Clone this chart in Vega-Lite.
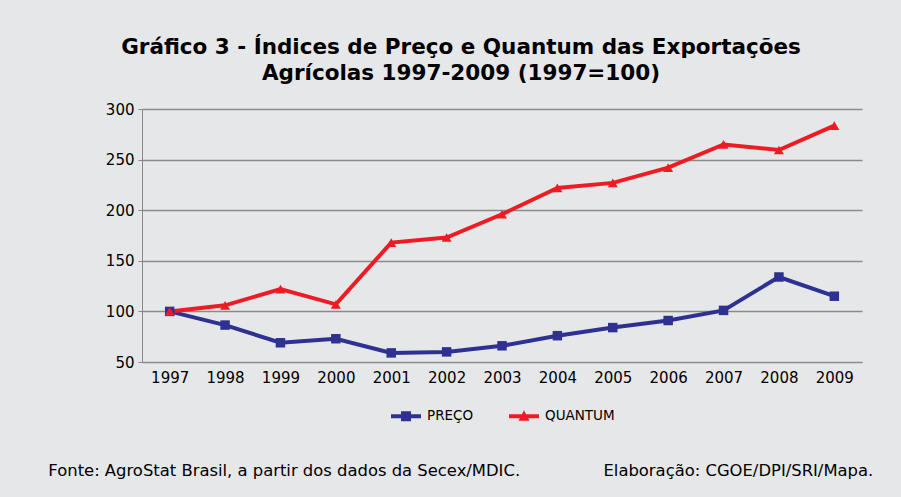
{
  "$schema": "https://vega.github.io/schema/vega-lite/v6.json",
  "background": "#e6e7e8",
  "padding": {"left": 48, "top": 36, "right": 30, "bottom": 20},
  "title": {
    "text": "Fonte: AgroStat Brasil, a partir dos dados da Secex/MDIC.\u00a0\u00a0\u00a0\u00a0\u00a0\u00a0\u00a0\u00a0\u00a0\u00a0\u00a0\u00a0\u00a0\u00a0\u00a0\u00a0Elaboração: CGOE/DPI/SRI/Mapa.",
    "orient": "bottom",
    "anchor": "start",
    "font": "DejaVu Sans",
    "fontSize": 16.4,
    "fontWeight": "normal",
    "color": "#000000",
    "offset": 40,
    "dx": -57
  },
  "vconcat": [
    {
      "width": 720,
      "height": 253,
      "title": {
        "text": ["Gráfico 3 - Índices de Preço e Quantum das Exportações", "Agrícolas 1997-2009 (1997=100)"],
        "anchor": "middle",
        "font": "DejaVu Sans",
        "fontSize": 21.5,
        "fontWeight": "bold",
        "lineHeight": 26,
        "color": "#000000",
        "dx": -41,
        "offset": 18
      },
      "data": {
        "values": [
          {"year": "1997", "serie": "PREÇO", "v": 100},
          {"year": "1998", "serie": "PREÇO", "v": 86.5},
          {"year": "1999", "serie": "PREÇO", "v": 69},
          {"year": "2000", "serie": "PREÇO", "v": 73},
          {"year": "2001", "serie": "PREÇO", "v": 59},
          {"year": "2002", "serie": "PREÇO", "v": 60},
          {"year": "2003", "serie": "PREÇO", "v": 66},
          {"year": "2004", "serie": "PREÇO", "v": 76},
          {"year": "2005", "serie": "PREÇO", "v": 84},
          {"year": "2006", "serie": "PREÇO", "v": 91},
          {"year": "2007", "serie": "PREÇO", "v": 101},
          {"year": "2008", "serie": "PREÇO", "v": 134},
          {"year": "2009", "serie": "PREÇO", "v": 115},
          {"year": "1997", "serie": "QUANTUM", "v": 100},
          {"year": "1998", "serie": "QUANTUM", "v": 106},
          {"year": "1999", "serie": "QUANTUM", "v": 122},
          {"year": "2000", "serie": "QUANTUM", "v": 107},
          {"year": "2001", "serie": "QUANTUM", "v": 168},
          {"year": "2002", "serie": "QUANTUM", "v": 173},
          {"year": "2003", "serie": "QUANTUM", "v": 196},
          {"year": "2004", "serie": "QUANTUM", "v": 222},
          {"year": "2005", "serie": "QUANTUM", "v": 227},
          {"year": "2006", "serie": "QUANTUM", "v": 242},
          {"year": "2007", "serie": "QUANTUM", "v": 265},
          {"year": "2008", "serie": "QUANTUM", "v": 259.5},
          {"year": "2009", "serie": "QUANTUM", "v": 283.5}
        ]
      },
      "encoding": {
        "x": {
          "field": "year",
          "type": "ordinal",
          "scale": {"type": "point", "padding": 0.5},
          "axis": {
            "title": null,
            "labelAngle": 0,
            "ticks": false,
            "domain": true,
            "domainColor": "#8a8a8a",
            "labelFont": "DejaVu Sans",
            "labelFontSize": 15,
            "labelColor": "#000000",
            "labelPadding": 8,
            "grid": false
          }
        },
        "y": {
          "field": "v",
          "type": "quantitative",
          "scale": {"domain": [50, 300], "nice": false, "zero": false},
          "axis": {
            "title": null,
            "values": [50, 100, 150, 200, 250, 300],
            "grid": true,
            "gridColor": "#8a8a8a",
            "gridWidth": 1.3,
            "domainColor": "#8a8a8a",
            "tickColor": "#8a8a8a",
            "tickSize": 4,
            "labelFont": "DejaVu Sans",
            "labelFontSize": 15,
            "labelColor": "#000000",
            "labelPadding": 4
          }
        },
        "color": {
          "field": "serie",
          "type": "nominal",
          "scale": {"domain": ["PREÇO", "QUANTUM"], "range": ["#2e3192", "#ed1c24"]},
          "legend": {
            "title": null,
            "orient": "none",
            "direction": "horizontal",
            "legendX": 254,
            "legendY": 297,
            "labelFont": "DejaVu Sans",
            "labelFontSize": 13.5,
            "labelColor": "#000000",
            "symbolSize": 400,
            "columnPadding": 35,
            "labelOffset": 11,
            "encoding": {
              "symbols": {
                "shape": {
                  "condition": {"test": "datum.value == 'PREÇO'", "value": "M-1.5,-0.2H1.5V0.2H-1.5Z M-0.5,-0.5H0.5V0.5H-0.5Z"},
                  "value": "M-1.5,-0.2H1.5V0.2H-1.5Z M0,-0.6L0.55,0.45H-0.55Z"
                },
                "fill": {
                  "condition": {"test": "datum.value == 'PREÇO'", "value": "#2e3192"},
                  "value": "#ed1c24"
                },
                "size": {"value": 400},
                "stroke": {"value": "transparent"},
                "strokeWidth": {"value": 0},
                "opacity": {"value": 1}
              }
            }
          }
        }
      },
      "layer": [
        {"mark": {"type": "line", "strokeWidth": 4}},
        {
          "transform": [{"filter": "datum.serie == 'PREÇO'"}],
          "mark": {"type": "point", "filled": true, "opacity": 1, "size": 90, "shape": "square"}
        },
        {
          "transform": [{"filter": "datum.serie == 'QUANTUM'"}],
          "mark": {"type": "point", "filled": true, "opacity": 1, "size": 100, "shape": "triangle-up"}
        }
      ]
    }
  ],
  "config": {
    "view": {"stroke": null},
    "concat": {"spacing": 0}
  }
}
